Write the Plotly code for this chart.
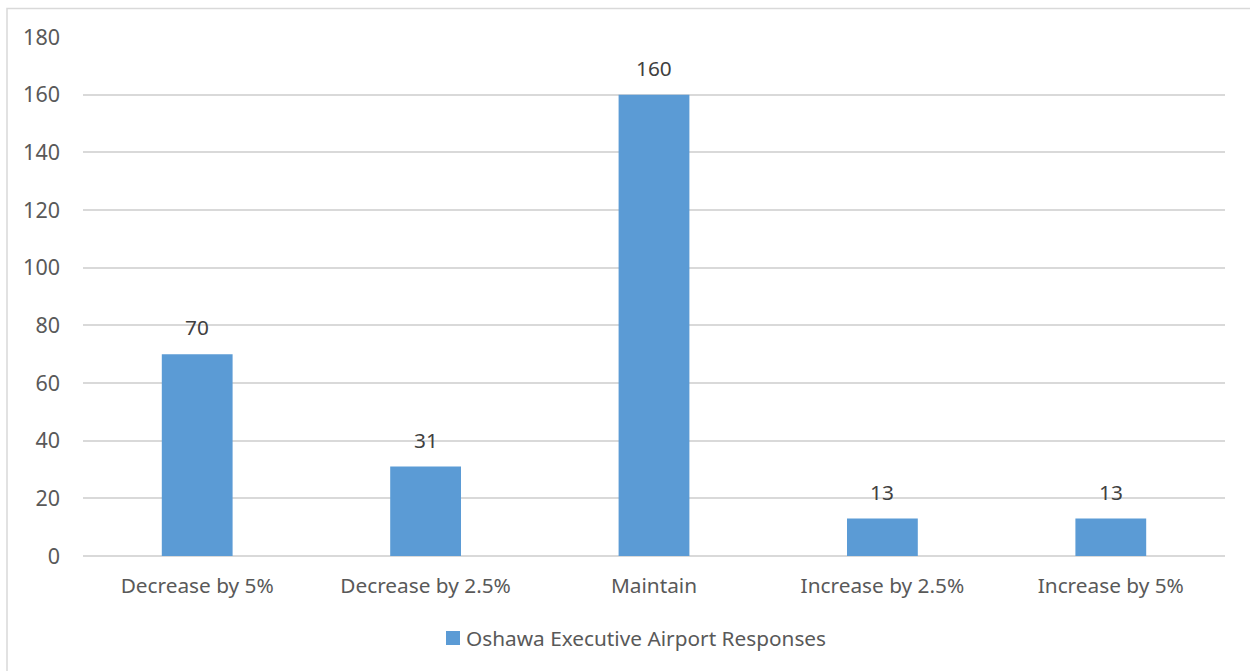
import plotly.graph_objects as go

categories = ["Decrease by 5%", "Decrease by 2.5%", "Maintain", "Increase by 2.5%", "Increase by 5%"]
responses = [70, 31, 160, 13, 13]
series_name = "Oshawa Executive Airport Responses"
y_ticks = [0, 20, 40, 60, 80, 100, 120, 140, 160, 180]

FONT = "Noto Sans"
FS = 20.8
BAR = "#5b9bd5"
GRID = "#d9d9d9"

W, H = 1250, 671
L, R, T, B = 83, 25, 37, 115
pw, ph = W - L - R, H - T - B


def px_x(p):
    return (p - L) / pw


def px_y(p):
    return (H - B - p) / ph


fig = go.Figure()
fig.add_trace(go.Bar(
    x=categories, y=responses, name=series_name,
    marker=dict(color=BAR, line=dict(width=0)),
    width=0.31,
    showlegend=False,
))

# value labels above each bar
annotations = [
    dict(x=c, y=v, xref="x", yref="y", text=str(v), showarrow=False,
         yanchor="bottom", yshift=11,
         font=dict(family=FONT, size=FS, color="#404040"))
    for c, v in zip(categories, responses)
]

# legend: swatch + series name, centred under the axis
annotations.append(dict(
    x=px_x(464), y=px_y(638), xref="paper", yref="paper", text=series_name,
    showarrow=False, xanchor="left", yanchor="middle",
    font=dict(family=FONT, size=FS, color="#595959")))

fig.update_layout(
    width=W, height=H,
    margin=dict(l=L, r=R, t=T, b=B),
    paper_bgcolor="white", plot_bgcolor="white",
    showlegend=False,
    xaxis=dict(showgrid=False, showline=False, ticks="", ticklabelstandoff=15,
               tickfont=dict(family=FONT, size=FS, color="#595959")),
    yaxis=dict(range=[0, 180], tickvals=y_ticks, showgrid=True, gridcolor=GRID, gridwidth=1.5,
               zeroline=True, zerolinecolor=GRID, zerolinewidth=1.5, showline=False, ticks="",
               ticklabelstandoff=22,
               tickfont=dict(family=FONT, size=21.5, color="#595959")),
    annotations=annotations,
    shapes=[
        dict(type="rect", xref="paper", yref="paper",
             x0=px_x(7), x1=px_x(1270), y0=px_y(690), y1=px_y(8.5),
             line=dict(color=GRID, width=1.5), fillcolor="rgba(0,0,0,0)", layer="below"),
        dict(type="rect", xref="paper", yref="paper",
             x0=px_x(446), x1=px_x(460), y0=px_y(645), y1=px_y(631),
             line=dict(width=0), fillcolor=BAR),
    ],
)

fig.write_html("out.html")
